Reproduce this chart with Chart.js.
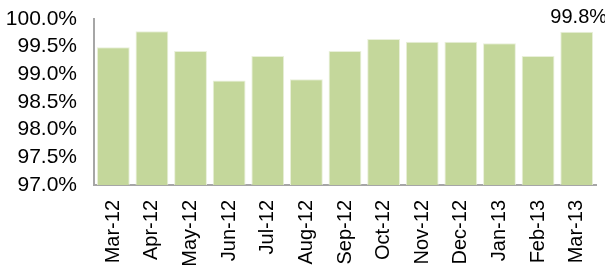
<!DOCTYPE html>
<html lang="en">
<head>
<meta charset="UTF-8">
<title>Availability</title>
<style>
  html, body { margin: 0; padding: 0; background: #fff; }
  #wrap { width: 605px; height: 266px; }
</style>
</head>
<body>
<div id="wrap"><canvas id="chart"></canvas></div>
<script src="https://cdn.jsdelivr.net/npm/chart.js@4.4.0/dist/chart.umd.min.js"></script>
<script>
  var months = ['Mar-12', 'Apr-12', 'May-12', 'Jun-12', 'Jul-12', 'Aug-12', 'Sep-12',
                'Oct-12', 'Nov-12', 'Dec-12', 'Jan-13', 'Feb-13', 'Mar-13'];
  var values = [99.49, 99.78, 99.42, 98.89, 99.33, 98.91, 99.42, 99.64, 99.59, 99.59, 99.56, 99.33, 99.77];
  var yMin = 97.0;
  var yMax = 100.0;
  var yStep = 0.5;
  var labelledIndex = [12];

  var font = "'Liberation Sans', Arial, sans-serif";

  // value label over the last bar
  var barLabels = {
    id: 'barLabels',
    afterDatasetsDraw: function (chart) {
      var ctx = chart.ctx;
      var meta = chart.getDatasetMeta(0);
      ctx.save();
      ctx.font = '20px ' + font;
      ctx.fillStyle = '#000';
      ctx.textAlign = 'center';
      ctx.textBaseline = 'bottom';
      labelledIndex.forEach(function (i) {
        var bar = meta.data[i];
        ctx.fillText(values[i].toFixed(1) + '%', bar.x + 2, bar.y - 4);
      });
      ctx.restore();
    }
  };

  new Chart(document.getElementById('chart'), {
    type: 'bar',
    data: {
      labels: months,
      datasets: [{
        data: values,
        backgroundColor: '#c4d79b',
        borderColor: '#e9f0da',
        borderWidth: 1,
        barPercentage: 0.85,
        categoryPercentage: 1.0
      }]
    },
    options: {
      responsive: true,
      maintainAspectRatio: false,
      animation: false,
      layout: { padding: { top: 19, right: 9, left: 0, bottom: 0 } },
      plugins: {
        legend: { display: false },
        tooltip: { enabled: false }
      },
      scales: {
        x: {
          afterFit: function (scale) {
            scale.height = 81;
            scale.paddingLeft = 0;
            scale.paddingRight = 0;
          },
          grid: { display: false, drawTicks: false },
          border: { display: true, color: '#a6a6a6', width: 2 },
          ticks: {
            color: '#000',
            font: { family: font, size: 20 },
            maxRotation: 90,
            minRotation: 90,
            padding: 15,
            autoSkip: false
          }
        },
        y: {
          min: yMin,
          max: yMax,
          afterFit: function (scale) {
            scale.width = 94;
            scale.paddingTop = 0;
            scale.paddingBottom = 0;
          },
          grid: { display: false, drawTicks: false },
          border: { display: true, color: '#a6a6a6', width: 2 },
          ticks: {
            stepSize: yStep,
            autoSkip: false,
            color: '#000',
            font: { family: font, size: 21 },
            padding: 17,
            callback: function (v) { return v.toFixed(1) + '%'; }
          }
        }
      }
    },
    plugins: [barLabels]
  });
</script>
</body>
</html>
